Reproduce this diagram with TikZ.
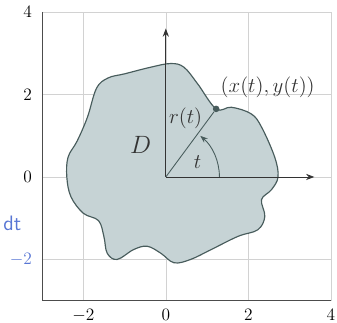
\documentclass[tikz,border=0pt]{standalone}
\usepackage{amsmath,amssymb}
\usepackage{tikz}
\usetikzlibrary{arrows.meta,calc,positioning}
\definecolor{regionfill}{RGB}{198,211,213}
\definecolor{regionedge}{RGB}{72,92,92}
\definecolor{inkblue}{RGB}{88,118,212}
\tikzset{
  gridline/.style = {gray!35, thin},
  frame/.style    = {gray!60!black, semithick},
  axis/.style     = {-{Stealth[length=2mm]}, gray!40!black, semithick},
  region/.style   = {draw=regionedge, thick, fill=regionfill},
  dot/.style      = {circle, fill=regionedge, inner sep=1.6pt},
  ray/.style      = {regionedge, semithick},
  vec/.style      = {-{Stealth[length=1.8mm]}, regionedge, semithick},
  tick/.style     = {font=\large},
  lbl/.style      = {font=\Large, text=black!80},
}
\begin{document}
\begin{tikzpicture}[x=1cm,y=1cm]
  \useasboundingbox (-4.02,-3.52) rectangle (4.15,4.29);
  % grid and frame
  \foreach \v in {-2,0,2,4} {
    \draw[gridline] (\v,-3) -- (\v,4);
    \draw[gridline] (-3,\v) -- (4,\v);
  }
  \draw[frame] (-3,4) -- (-3,-3) -- (4,-3);
  % the region D
  \draw[region] plot[smooth cycle, tension=0.6] coordinates {
    (2.72,0) (2.64,0.48) (2.32,1.21) (2.07,1.53) (1.59,1.69) (1.22,1.65)
    (0.77,2.26) (0.44,2.66) (0.12,2.75) (-0.37,2.66) (-1.0,2.5) (-1.4,2.4)
    (-1.68,2.15) (-1.9,1.45) (-2.15,0.87) (-2.37,0.48) (-2.4,0) (-2.3,-0.48)
    (-2.0,-0.88) (-1.63,-1.06) (-1.5,-1.45) (-1.42,-1.85) (-1.18,-2.0)
    (-0.78,-1.76) (-0.45,-1.68) (-0.12,-1.85) (0.2,-2.08) (0.6,-2.0)
    (1.1,-1.76) (1.75,-1.44) (2.23,-1.28) (2.4,-0.96) (2.32,-0.55) (2.56,-0.31)
  };
  % axes
  \coordinate (O) at (0,0);
  \coordinate (xend) at (3.6,0);
  \coordinate (yend) at (0,3.6);
  \draw[axis] (O) -- (xend);
  \draw[axis] (O) -- (yend);
  % radius and angle
  \node[dot] (P) at (1.22,1.65) {};
  \draw[ray] (O) -- (P);
  \draw[vec] ([shift={(0:1.3)}]O) arc (0:50:1.3);
  \node[lbl] (rt) at (0.48,1.43) {$r(t)$};
  \node[lbl] (ang) at (0.77,0.35) {$t$};
  \node[lbl] (Plbl) at (2.47,2.17) {$(x(t),y(t))$};
  \node[font=\fontsize{19}{21}\selectfont, text=black!80] (D) at (-0.61,0.77) {$D$};
  % tick labels
  \foreach \v/\c in {4/black,2/black,0/black,-2/inkblue}
    \node[tick, anchor=east, text=\c] (yl\v) at (-3.12,\v) {$\v$};
  \foreach \v in {-2,0,2,4}
    \node[tick, anchor=north] (xl\v) at (\v,-3.08) {$\v$};
  % pen note
  \node[text=inkblue, font=\Large\sffamily] (note) at (-3.72,-1.12) {dt};
\end{tikzpicture}
\end{document}
